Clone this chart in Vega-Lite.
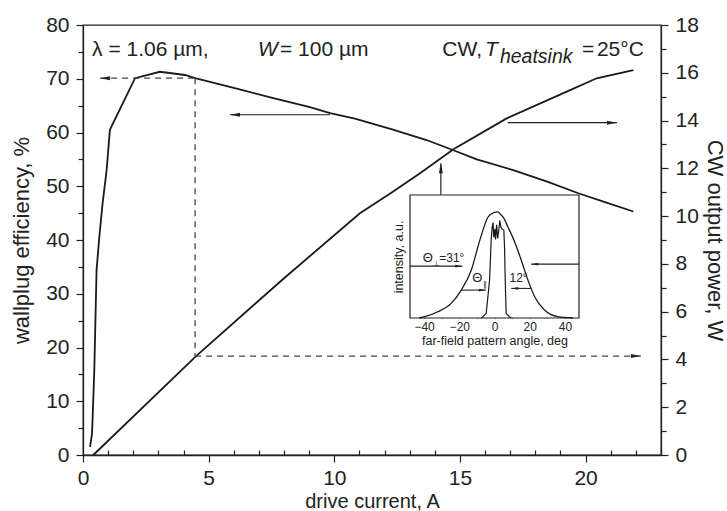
{
  "$schema": "https://vega.github.io/schema/vega-lite/v6.json",
  "width": 578,
  "height": 430,
  "autosize": {"type": "none"},
  "padding": {"left": 83, "top": 25, "right": 66, "bottom": 56},
  "background": "white",
  "config": {
    "view": {"stroke": "#222", "strokeWidth": 1.3},
    "font": "Liberation Sans",
    "axis": {"domainColor": "#222", "domainWidth": 1.3, "tickColor": "#222", "tickWidth": 1.2, "labelColor": "#222", "titleColor": "#222", "labelFont": "Liberation Sans", "titleFont": "Liberation Sans", "titleFontWeight": "normal", "grid": false, "labelFlush": false, "labelOverlap": false}
  },
  "datasets": {
    "eff": [
      {"I": 0.28, "E": 1.5}, {"I": 0.36, "E": 4}, {"I": 0.45, "E": 15.8}, {"I": 0.54, "E": 34.4}, {"I": 0.65, "E": 40.6}, {"I": 0.78, "E": 46.8}, {"I": 0.94, "E": 53}, {"I": 1.07, "E": 60.5}, {"I": 2.07, "E": 70.1}, {"I": 3.06, "E": 71.3}, {"I": 4.06, "E": 70.7}, {"I": 4.46, "E": 70.1}, {"I": 6.0, "E": 68.3}, {"I": 7.57, "E": 66.4}, {"I": 9.03, "E": 64.7}, {"I": 9.83, "E": 63.6}, {"I": 10.82, "E": 62.6}, {"I": 12.3, "E": 60.6}, {"I": 13.67, "E": 58.6}, {"I": 14.74, "E": 56.7}, {"I": 15.67, "E": 55}, {"I": 17.12, "E": 53}, {"I": 18.5, "E": 50.8}, {"I": 19.71, "E": 48.7}, {"I": 20.8, "E": 47}, {"I": 21.9, "E": 45.3}
    ],
    "pow": [
      {"I": 0.41, "P": 0}, {"I": 4.5, "P": 4.14}, {"I": 8.0, "P": 7.4}, {"I": 11.02, "P": 10.12}, {"I": 12.3, "P": 11.0}, {"I": 13.41, "P": 11.79}, {"I": 14.74, "P": 12.8}, {"I": 16.86, "P": 14.09}, {"I": 19.25, "P": 15.21}, {"I": 20.44, "P": 15.77}, {"I": 21.9, "P": 16.11}
    ],
    "arrE": [
      {"g": "a", "I": 9.83, "E": 63.3}, {"g": "a", "I": 5.85, "E": 63.3},
      {"g": "b", "I": 14.24, "E": 48.4}, {"g": "b", "I": 14.24, "E": 54.3}
    ],
    "dashE": [
      {"g": "h", "I": 4.46, "E": 70.1}, {"g": "h", "I": 0.68, "E": 70.1},
      {"g": "v", "I": 4.46, "E": 70.1}, {"g": "v", "I": 4.46, "E": 18.4}
    ],
    "headE": [
      {"I": 5.85, "E": 63.3, "d": "L"}, {"I": 14.24, "E": 54.3, "d": "U"}, {"I": 0.68, "E": 70.1, "d": "L"}
    ],
    "dashP": [{"I": 4.46, "P": 4.14}, {"I": 22.2, "P": 4.14}],
    "arrP": [{"I": 16.9, "P": 13.91}, {"I": 21.25, "P": 13.91}],
    "headP": [{"I": 21.25, "P": 13.91, "d": "R"}, {"I": 22.2, "P": 4.14, "d": "R"}],
    "txtN": [
      {"I": 0.36, "E": 74.3, "t": "λ = 1.06 µm,"},
      {"I": 7.84, "E": 74.3, "t": "= 100 µm"},
      {"I": 14.3, "E": 74.3, "t": "CW,"},
      {"I": 19.86, "E": 74.3, "t": "="},
      {"I": 20.45, "E": 74.3, "t": "25°C"}
    ],
    "txtI": [
      {"I": 6.96, "E": 74.3, "t": "W"},
      {"I": 16.0, "E": 74.3, "t": "T"}
    ],
    "txtS": [{"I": 16.59, "E": 73.0, "t": "heatsink"}],
    "frame": [{"a1": -48, "a2": 48, "v1": 0, "v2": 1.16}],
    "inBroad": [
      {"a": -42.8, "v": 0}, {"a": -39.6, "v": 0.012}, {"a": -32.2, "v": 0.059}, {"a": -24.6, "v": 0.138}, {"a": -18.9, "v": 0.263}, {"a": -13.2, "v": 0.45}, {"a": -8.4, "v": 0.73}, {"a": -3.75, "v": 0.95}, {"a": -0.9, "v": 0.99}, {"a": 1.9, "v": 1.0}, {"a": 3.8, "v": 0.97}, {"a": 5.0, "v": 0.95}, {"a": 7.6, "v": 0.86}, {"a": 11.4, "v": 0.72}, {"a": 15.2, "v": 0.545}, {"a": 19.0, "v": 0.357}, {"a": 22.8, "v": 0.2}, {"a": 28.4, "v": 0.075}, {"a": 36.0, "v": 0.012}, {"a": 44.6, "v": 0}
    ],
    "inNarrow": [
      {"a": -7.5, "v": 0}, {"a": -6.6, "v": 0.012}, {"a": -4.7, "v": 0.044}, {"a": -2.8, "v": 0.357}, {"a": -1.9, "v": 0.73}, {"a": -1.3, "v": 0.86}, {"a": -0.8, "v": 0.9}, {"a": -0.4, "v": 0.76}, {"a": 0.2, "v": 0.84}, {"a": 0.6, "v": 0.74}, {"a": 1.2, "v": 0.88}, {"a": 1.8, "v": 0.75}, {"a": 2.4, "v": 0.82}, {"a": 3.0, "v": 0.92}, {"a": 3.6, "v": 0.86}, {"a": 4.2, "v": 0.84}, {"a": 5.3, "v": 0.83}, {"a": 5.7, "v": 0.67}, {"a": 6.1, "v": 0.357}, {"a": 6.6, "v": 0.044}, {"a": 8.5, "v": 0.012}, {"a": 9.5, "v": 0}
    ],
    "inArr": [
      {"g": "a", "a": -48, "v": 0.489}, {"g": "a", "a": -18.3, "v": 0.489},
      {"g": "b", "a": 48, "v": 0.508}, {"g": "b", "a": 20.8, "v": 0.508},
      {"g": "c", "a": -18.9, "v": 0.263}, {"g": "c", "a": -4.9, "v": 0.263},
      {"g": "d", "a": 20.8, "v": 0.279}, {"g": "d", "a": 9.5, "v": 0.279}
    ],
    "inHead": [
      {"a": -18.3, "v": 0.489, "d": "R"}, {"a": 20.8, "v": 0.508, "d": "L"}, {"a": -4.9, "v": 0.263, "d": "R"}, {"a": 9.5, "v": 0.279, "d": "L"}
    ],
    "inTxtBig": [
      {"a": -40.7, "v": 0.53, "t": "Θ"}, {"a": -12.6, "v": 0.34, "t": "Θ"}
    ],
    "inTxtSub": [
      {"a": -35.0, "v": 0.49, "t": "⊥"}, {"a": -6.6, "v": 0.295, "t": "∥"}
    ],
    "inTxt": [
      {"a": -31.4, "v": 0.53, "t": "=31°"}, {"a": 8.5, "v": 0.34, "t": "12°"}
    ]
  },
  "layer": [
    {
      "data": {"name": "eff"},
      "mark": {"type": "line", "color": "#1a1a1a", "strokeWidth": 1.8},
      "encoding": {
        "x": {"field": "I", "type": "quantitative", "scale": {"domain": [0, 23], "nice": false, "zero": false},
          "axis": {"orient": "bottom", "values": [0, 5, 10, 15, 20], "tickSize": 7, "labelPadding": 5, "labelFontSize": 21, "title": "drive current, A", "titleFontSize": 20, "titlePadding": 3}},
        "y": {"field": "E", "type": "quantitative", "scale": {"domain": [0, 80], "nice": false},
          "axis": {"orient": "left", "values": [0, 10, 20, 30, 40, 50, 60, 70, 80], "tickSize": 7, "labelPadding": 7, "labelFontSize": 21, "title": "wallplug efficiency, %", "titleFontSize": 22, "titlePadding": 12}}
      }
    },
    {
      "data": {"name": "eff"},
      "mark": {"type": "line", "opacity": 0},
      "encoding": {
        "x": {"field": "I", "type": "quantitative", "scale": {"domain": [0, 23], "nice": false, "zero": false},
          "axis": {"orient": "bottom", "values": [1, 2, 3, 4, 6, 7, 8, 9, 11, 12, 13, 14, 16, 17, 18, 19, 21, 22, 23], "tickSize": -5, "labels": false, "domain": false, "title": null}},
        "y": {"field": "E", "type": "quantitative", "scale": {"domain": [0, 80], "nice": false},
          "axis": {"orient": "left", "values": [5, 15, 25, 35, 45, 55, 65, 75], "tickSize": 5, "labels": false, "domain": false, "title": null}}
      }
    },
    {
      "data": {"name": "pow"},
      "mark": {"type": "line", "color": "#1a1a1a", "strokeWidth": 1.8},
      "encoding": {
        "x": {"field": "I", "type": "quantitative", "scale": {"domain": [0, 23], "nice": false, "zero": false}, "axis": null},
        "y": {"field": "P", "type": "quantitative", "scale": {"domain": [0, 18], "nice": false},
          "axis": {"orient": "right", "values": [0, 2, 4, 6, 8, 10, 12, 14, 16, 18], "tickSize": 7, "labelPadding": 7, "labelFontSize": 21, "title": "CW output power, W", "titleFontSize": 22, "titlePadding": 4}}
      }
    },
    {
      "data": {"name": "pow"},
      "mark": {"type": "line", "opacity": 0},
      "encoding": {
        "x": {"field": "I", "type": "quantitative", "scale": {"domain": [0, 23], "nice": false, "zero": false}, "axis": null},
        "y": {"field": "P", "type": "quantitative", "scale": {"domain": [0, 18], "nice": false},
          "axis": {"orient": "right", "values": [1, 3, 5, 7, 9, 11, 13, 15, 17], "tickSize": 5, "labels": false, "domain": false, "title": null}}
      }
    },
    {
      "data": {"name": "dashE"},
      "mark": {"type": "line", "color": "#444", "strokeWidth": 1.3, "strokeDash": [6, 5]},
      "encoding": {
        "x": {"field": "I", "type": "quantitative", "scale": {"domain": [0, 23], "nice": false, "zero": false}, "axis": null},
        "y": {"field": "E", "type": "quantitative", "scale": {"domain": [0, 80], "nice": false}, "axis": null},
        "detail": {"field": "g"}
      }
    },
    {
      "data": {"name": "dashP"},
      "mark": {"type": "line", "color": "#444", "strokeWidth": 1.3, "strokeDash": [6, 5]},
      "encoding": {
        "x": {"field": "I", "type": "quantitative", "scale": {"domain": [0, 23], "nice": false, "zero": false}, "axis": null},
        "y": {"field": "P", "type": "quantitative", "scale": {"domain": [0, 18], "nice": false}, "axis": null}
      }
    },
    {
      "data": {"name": "arrE"},
      "mark": {"type": "line", "color": "#222", "strokeWidth": 1.2},
      "encoding": {
        "x": {"field": "I", "type": "quantitative", "scale": {"domain": [0, 23], "nice": false, "zero": false}, "axis": null},
        "y": {"field": "E", "type": "quantitative", "scale": {"domain": [0, 80], "nice": false}, "axis": null},
        "detail": {"field": "g"}
      }
    },
    {
      "data": {"name": "arrP"},
      "mark": {"type": "line", "color": "#222", "strokeWidth": 1.2},
      "encoding": {
        "x": {"field": "I", "type": "quantitative", "scale": {"domain": [0, 23], "nice": false, "zero": false}, "axis": null},
        "y": {"field": "P", "type": "quantitative", "scale": {"domain": [0, 18], "nice": false}, "axis": null}
      }
    },
    {
      "data": {"name": "headE"},
      "mark": {"type": "point", "filled": true, "color": "#222", "size": 100, "opacity": 1, "strokeWidth": 0},
      "encoding": {
        "x": {"field": "I", "type": "quantitative", "scale": {"domain": [0, 23], "nice": false, "zero": false}, "axis": null},
        "y": {"field": "E", "type": "quantitative", "scale": {"domain": [0, 80], "nice": false}, "axis": null},
        "shape": {"field": "d", "type": "nominal", "legend": null, "scale": {"domain": ["L", "R", "U"], "range": ["M0,0L2,-0.4L2,0.4Z", "M0,0L-2,-0.4L-2,0.4Z", "M0,0L-0.4,2L0.4,2Z"]}}
      }
    },
    {
      "data": {"name": "headP"},
      "mark": {"type": "point", "filled": true, "color": "#222", "size": 100, "opacity": 1, "strokeWidth": 0},
      "encoding": {
        "x": {"field": "I", "type": "quantitative", "scale": {"domain": [0, 23], "nice": false, "zero": false}, "axis": null},
        "y": {"field": "P", "type": "quantitative", "scale": {"domain": [0, 18], "nice": false}, "axis": null},
        "shape": {"field": "d", "type": "nominal", "legend": null, "scale": {"domain": ["L", "R", "U"], "range": ["M0,0L2,-0.4L2,0.4Z", "M0,0L-2,-0.4L-2,0.4Z", "M0,0L-0.4,2L0.4,2Z"]}}
      }
    },
    {
      "data": {"name": "txtN"},
      "mark": {"type": "text", "align": "left", "baseline": "alphabetic", "fontSize": 21, "color": "#222", "font": "Liberation Sans"},
      "encoding": {
        "x": {"field": "I", "type": "quantitative", "scale": {"domain": [0, 23], "nice": false, "zero": false}, "axis": null},
        "y": {"field": "E", "type": "quantitative", "scale": {"domain": [0, 80], "nice": false}, "axis": null},
        "text": {"field": "t"}
      }
    },
    {
      "data": {"name": "txtI"},
      "mark": {"type": "text", "align": "left", "baseline": "alphabetic", "fontSize": 21, "fontStyle": "italic", "color": "#222", "font": "Liberation Sans"},
      "encoding": {
        "x": {"field": "I", "type": "quantitative", "scale": {"domain": [0, 23], "nice": false, "zero": false}, "axis": null},
        "y": {"field": "E", "type": "quantitative", "scale": {"domain": [0, 80], "nice": false}, "axis": null},
        "text": {"field": "t"}
      }
    },
    {
      "data": {"name": "txtS"},
      "mark": {"type": "text", "align": "left", "baseline": "alphabetic", "fontSize": 19.5, "fontStyle": "italic", "color": "#222", "font": "Liberation Sans"},
      "encoding": {
        "x": {"field": "I", "type": "quantitative", "scale": {"domain": [0, 23], "nice": false, "zero": false}, "axis": null},
        "y": {"field": "E", "type": "quantitative", "scale": {"domain": [0, 80], "nice": false}, "axis": null},
        "text": {"field": "t"}
      }
    },
    {
      "data": {"name": "frame"},
      "mark": {"type": "rect", "fill": "white", "stroke": "#222", "strokeWidth": 1.2},
      "encoding": {
        "x": {"field": "a1", "type": "quantitative", "scale": {"domain": [-48, 48], "range": [327, 496], "nice": false, "zero": false},
          "axis": {"orient": "bottom", "offset": -137, "values": [-40, -30, -20, -10, 0, 10, 20, 30, 40], "labelExpr": "datum.value % 20 == 0 ? datum.label : ''", "tickSize": -4, "labelPadding": 7, "labelFontSize": 12, "domain": false, "title": "far-field pattern angle, deg", "titleFontSize": 12.5, "titlePadding": 2}},
        "x2": {"field": "a2"},
        "y": {"field": "v1", "type": "quantitative", "scale": {"domain": [0, 1.16], "range": [293, 170], "nice": false},
          "axis": {"orient": "left", "offset": -327, "ticks": false, "labels": false, "domain": false, "title": "intensity, a.u.", "titleFontSize": 12.5, "titlePadding": 5}},
        "y2": {"field": "v2"}
      }
    },
    {
      "data": {"name": "frame"},
      "mark": {"type": "rect", "opacity": 0},
      "encoding": {
        "x": {"field": "a1", "type": "quantitative", "scale": {"domain": [-48, 48], "range": [327, 496], "nice": false, "zero": false},
          "axis": {"orient": "top", "offset": -170, "values": [-40, -30, -20, -10, 0, 10, 20, 30, 40], "tickSize": -4, "labels": false, "domain": false, "title": null}},
        "x2": {"field": "a2"},
        "y": {"field": "v1", "type": "quantitative", "scale": {"domain": [0, 1.16], "range": [293, 170], "nice": false}, "axis": null},
        "y2": {"field": "v2"}
      }
    },
    {
      "data": {"name": "inBroad"},
      "mark": {"type": "line", "color": "#1a1a1a", "strokeWidth": 1.3, "interpolate": "monotone"},
      "encoding": {
        "x": {"field": "a", "type": "quantitative", "scale": {"domain": [-48, 48], "range": [327, 496], "nice": false, "zero": false}, "axis": null},
        "y": {"field": "v", "type": "quantitative", "scale": {"domain": [0, 1.16], "range": [293, 170], "nice": false}, "axis": null}
      }
    },
    {
      "data": {"name": "inNarrow"},
      "mark": {"type": "line", "color": "#1a1a1a", "strokeWidth": 1.2},
      "encoding": {
        "x": {"field": "a", "type": "quantitative", "scale": {"domain": [-48, 48], "range": [327, 496], "nice": false, "zero": false}, "axis": null},
        "y": {"field": "v", "type": "quantitative", "scale": {"domain": [0, 1.16], "range": [293, 170], "nice": false}, "axis": null}
      }
    },
    {
      "data": {"name": "inArr"},
      "mark": {"type": "line", "color": "#222", "strokeWidth": 1.1},
      "encoding": {
        "x": {"field": "a", "type": "quantitative", "scale": {"domain": [-48, 48], "range": [327, 496], "nice": false, "zero": false}, "axis": null},
        "y": {"field": "v", "type": "quantitative", "scale": {"domain": [0, 1.16], "range": [293, 170], "nice": false}, "axis": null},
        "detail": {"field": "g"}
      }
    },
    {
      "data": {"name": "inHead"},
      "mark": {"type": "point", "filled": true, "color": "#222", "size": 50, "opacity": 1, "strokeWidth": 0},
      "encoding": {
        "x": {"field": "a", "type": "quantitative", "scale": {"domain": [-48, 48], "range": [327, 496], "nice": false, "zero": false}, "axis": null},
        "y": {"field": "v", "type": "quantitative", "scale": {"domain": [0, 1.16], "range": [293, 170], "nice": false}, "axis": null},
        "shape": {"field": "d", "type": "nominal", "legend": null, "scale": {"domain": ["L", "R", "U"], "range": ["M0,0L2,-0.4L2,0.4Z", "M0,0L-2,-0.4L-2,0.4Z", "M0,0L-0.4,2L0.4,2Z"]}}
      }
    },
    {
      "data": {"name": "inTxtBig"},
      "mark": {"type": "text", "align": "left", "baseline": "alphabetic", "fontSize": 13, "color": "#222", "font": "Liberation Sans"},
      "encoding": {
        "x": {"field": "a", "type": "quantitative", "scale": {"domain": [-48, 48], "range": [327, 496], "nice": false, "zero": false}, "axis": null},
        "y": {"field": "v", "type": "quantitative", "scale": {"domain": [0, 1.16], "range": [293, 170], "nice": false}, "axis": null},
        "text": {"field": "t"}
      }
    },
    {
      "data": {"name": "inTxtSub"},
      "mark": {"type": "text", "align": "left", "baseline": "alphabetic", "fontSize": 8, "color": "#222", "font": "DejaVu Sans"},
      "encoding": {
        "x": {"field": "a", "type": "quantitative", "scale": {"domain": [-48, 48], "range": [327, 496], "nice": false, "zero": false}, "axis": null},
        "y": {"field": "v", "type": "quantitative", "scale": {"domain": [0, 1.16], "range": [293, 170], "nice": false}, "axis": null},
        "text": {"field": "t"}
      }
    },
    {
      "data": {"name": "inTxt"},
      "mark": {"type": "text", "align": "left", "baseline": "alphabetic", "fontSize": 12, "color": "#222", "font": "Liberation Sans"},
      "encoding": {
        "x": {"field": "a", "type": "quantitative", "scale": {"domain": [-48, 48], "range": [327, 496], "nice": false, "zero": false}, "axis": null},
        "y": {"field": "v", "type": "quantitative", "scale": {"domain": [0, 1.16], "range": [293, 170], "nice": false}, "axis": null},
        "text": {"field": "t"}
      }
    }
  ],
  "resolve": {
    "scale": {"x": "independent", "y": "independent", "shape": "independent"},
    "axis": {"x": "independent", "y": "independent"}
  }
}
